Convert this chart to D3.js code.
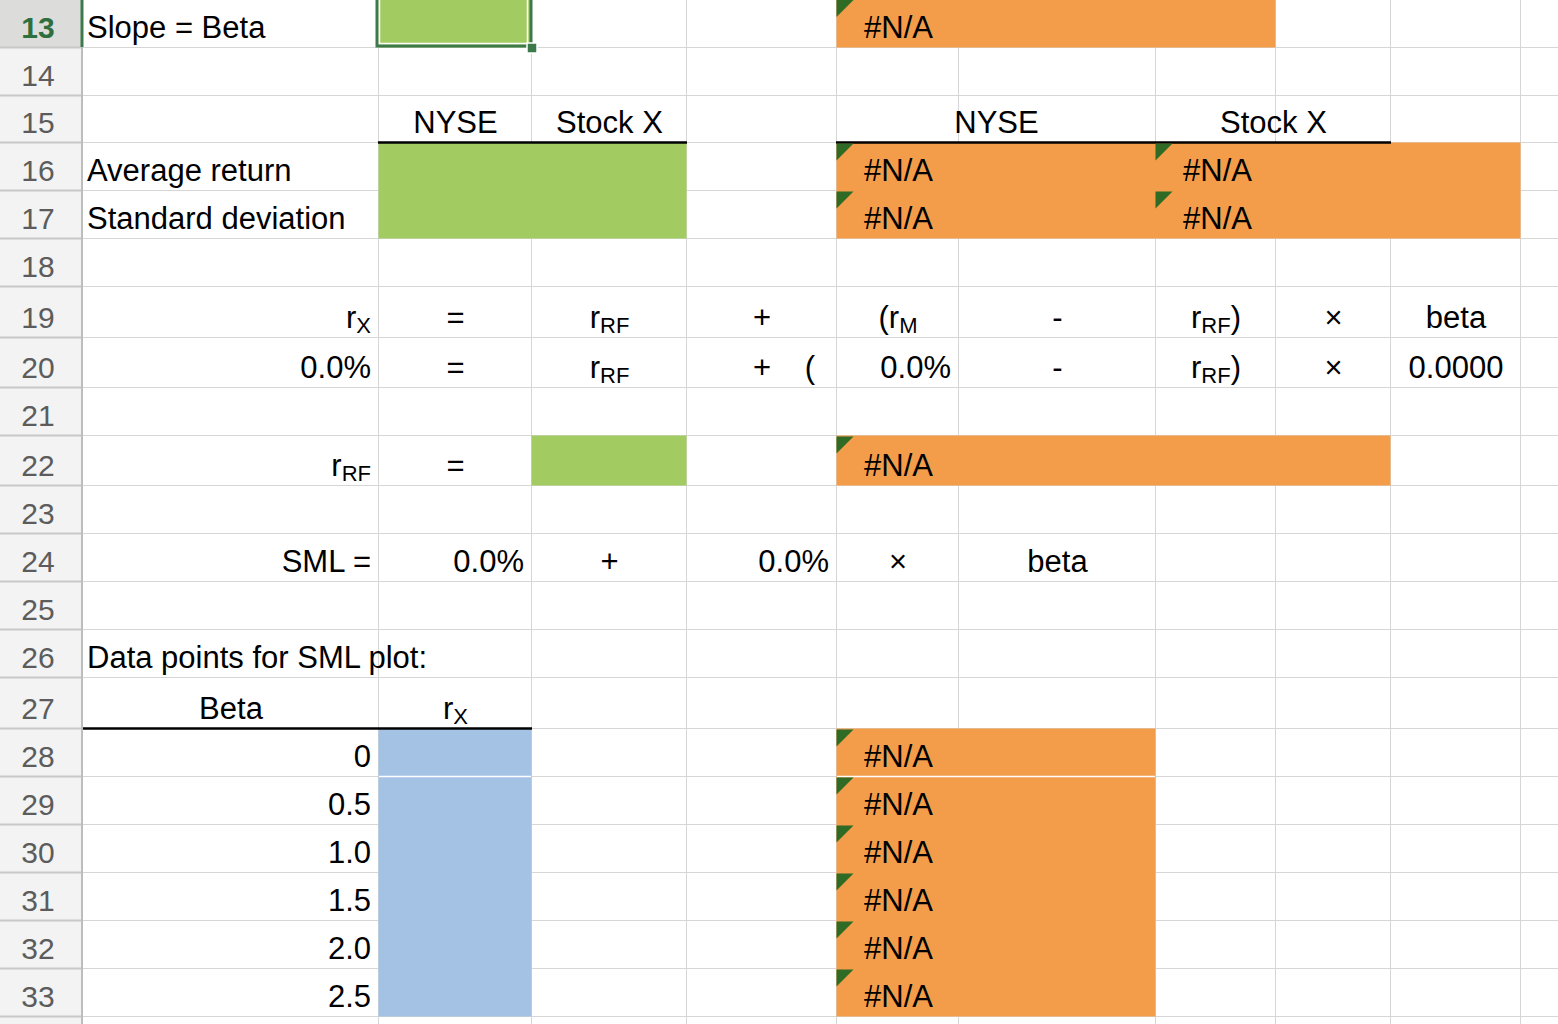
<!DOCTYPE html>
<html><head><meta charset="utf-8">
<script src="https://cdn.jsdelivr.net/npm/d3@7"></script>
<style>html,body{margin:0;padding:0;background:#fff;overflow:hidden}</style>
</head><body>
<script>
// ---------- data ----------
const columnNames = ["A","B","C","D","E","F","G","H","I","J"];
const rowNumbers = [13,14,15,16,17,18,19,20,21,22,23,24,25,26,27,28,29,30,31,32,33,34];
const selectedRow = 13;
const betaLabels = ["0","0.5","1.0","1.5","2.0","2.5"];
const betaRows = [28,29,30,31,32,33];
const naLabel = "#N/A";
const cellTexts = [
  ["A13","Slope = Beta"],["E13",naLabel],
  ["B15","NYSE"],["C15","Stock X"],["E15:F15","NYSE"],["G15:H15","Stock X"],
  ["A16","Average return"],["E16",naLabel],["G16",naLabel],
  ["A17","Standard deviation"],["E17",naLabel],["G17",naLabel],
  ["A19","r{X}"],["B19","="],["C19","r{RF}"],["D19","+"],["E19","(r{M}"],["F19","-"],["G19","r{RF})"],["H19","×"],["I19","beta"],
  ["A20","0.0%"],["B20","="],["C20","r{RF}"],["D20","+"],["D20(","("],["E20","0.0%"],["F20","-"],["G20","r{RF})"],["H20","×"],["I20","0.0000"],
  ["A22","r{RF}"],["B22","="],["E22",naLabel],
  ["A24","SML ="],["B24","0.0%"],["C24","+"],["D24","0.0%"],["E24","×"],["F24","beta"],
  ["A26","Data points for SML plot:"],
  ["A27","Beta"],["B27","r{X}"]
];
const fillRanges = [
  ["B13","green"],["E13:G13","orange"],
  ["B16:C17","green"],["E16:I17","orange"],
  ["C22","green"],["E22:H22","orange"],
  ["B28:B33","blue"],["E28:F33","orange"]
];
const errorCells = ["E13","E16","G16","E17","G17","E22","E28","E29","E30","E31","E32","E33"];
const bottomBorders = ["B15:C15","E15:H15","A27:B27"];
const whiteBottom = ["B28","E28:F28"];

// ---------- layout / style ----------
const W = 1558, H = 1024;
const colEdges = [83,379,532,687,837,959,1156,1276,1391,1521,1660];
const rowEdges = [0,48,96,143,191,239,287,338,388,436,486,534,582,630,678,729,777,825,873,921,969,1017,1065];
const fills = {green:"#a2cc62", orange:"#f39d4b", blue:"#a4c2e4"};
const FONT = "'Liberation Sans', Arial, Helvetica, sans-serif";
const FS = 31, SUBFS = 22;
const leftCells = ["A13","A16","A17","A26"];
const rightCells = ["A19","A20","A22","A24","B24","D24","E20"].concat(betaRows.map(r => "A" + r));
const alignOf = ref => {
  if (ref === "D20(") return {a:"middle", dx:48};
  if (leftCells.includes(ref)) return {a:"start"};
  if (errorCells.includes(ref)) return {a:"indent"};
  if (rightCells.includes(ref)) return {a:"end"};
  return {a:"middle"};
};

const xs = d3.scaleLinear().domain(d3.range(colEdges.length)).range(colEdges);
const ys = d3.scaleLinear().domain(d3.range(13, 13 + rowEdges.length)).range(rowEdges);
const ci = L => columnNames.indexOf(L);
function parseRange(r){
  const parts = r.replace("(","").split(":");
  const p = s => ({c: ci(s[0]), r: +s.slice(1)});
  const a = p(parts[0]), b = p(parts[1] || parts[0]);
  return {x0: xs(a.c), x1: xs(b.c + 1), y0: ys(a.r), y1: ys(b.r + 1)};
}

const svg = d3.select("body").append("svg").attr("width", W).attr("height", H)
  .style("display","block").attr("font-family", FONT);
svg.append("rect").attr("width", W).attr("height", H).attr("fill", "#fff");

// gridlines
const grid = svg.append("g").attr("stroke", "#d6d6d6").attr("stroke-width", 1);
grid.selectAll("line.v").data(colEdges.slice(1)).join("line")
  .attr("x1", d => d - 0.5).attr("x2", d => d - 0.5).attr("y1", 0).attr("y2", H);
grid.selectAll("line.h").data(rowNumbers.slice(1)).join("line")
  .attr("x1", colEdges[0]).attr("x2", W).attr("y1", d => ys(d) - 0.5).attr("y2", d => ys(d) - 0.5);

// fills
svg.append("g").selectAll("rect").data(fillRanges).join("rect")
  .each(function(d){ const r = parseRange(d[0]);
    d3.select(this).attr("x", r.x0 - 0.5).attr("y", r.y0 - 0.5).attr("width", r.x1 - r.x0).attr("height", r.y1 - r.y0)
      .attr("fill", fills[d[1]]); });

// white separators
svg.append("g").selectAll("line").data(whiteBottom).join("line")
  .each(function(d){ const r = parseRange(d);
    d3.select(this).attr("x1", r.x0).attr("x2", r.x1 - 1).attr("y1", r.y1 - 0.5).attr("y2", r.y1 - 0.5)
      .attr("stroke", "#fff").attr("stroke-width", 1.5); });

// black borders
svg.append("g").selectAll("line").data(bottomBorders).join("line")
  .each(function(d){ const r = parseRange(d);
    d3.select(this).attr("x1", r.x0 - 1).attr("x2", r.x1).attr("y1", r.y1 - 0.5).attr("y2", r.y1 - 0.5)
      .attr("stroke", "#000").attr("stroke-width", 2.5); });

// error triangles
svg.append("g").selectAll("path").data(errorCells).join("path")
  .attr("d", d => { const r = parseRange(d); const x = r.x0 - 0.5, y = r.y0 + (d === "E13" ? 0 : 0.5);
    return `M${x},${y}H${x + 17}L${x},${y + 17}Z`; })
  .attr("fill", "#2f6b24");

// texts
function drawText(ref, txt){
  const r = parseRange(ref), al = alignOf(ref);
  let x, anchor;
  if (al.a === "start"){ x = r.x0 + 4; anchor = "start"; }
  else if (al.a === "indent"){ x = r.x0 + 27; anchor = "start"; }
  else if (al.a === "end"){ x = r.x1 - 8; anchor = "end"; }
  else { x = (r.x0 + r.x1) / 2 + (al.dx || 0); anchor = "middle"; }
  const t = svg.append("text").attr("x", x).attr("y", r.y1 - 10).attr("text-anchor", anchor)
    .attr("font-size", FS).attr("fill", "#000");
  const segs = txt.split(/(\{[^}]*\})/).filter(s => s.length);
  let shifted = false;
  segs.forEach(s => {
    if (s[0] === "{"){ t.append("tspan").attr("font-size", SUBFS).attr("dy", 5).text(s.slice(1, -1)); shifted = true; }
    else { const sp = t.append("tspan").text(s); if (shifted){ sp.attr("dy", -5); shifted = false; } }
  });
}
cellTexts.forEach(d => drawText(d[0], d[1]));
betaRows.forEach((row, i) => drawText("A" + row, betaLabels[i]));
betaRows.forEach(row => drawText("E" + row, naLabel));

// row header
const hdr = svg.append("g");
hdr.append("rect").attr("x", 0).attr("y", 0).attr("width", colEdges[0] - 1).attr("height", H).attr("fill", "#f3f3f3");
hdr.append("rect").attr("x", 0).attr("y", ys(selectedRow)).attr("width", colEdges[0] - 1)
  .attr("height", ys(selectedRow + 1) - ys(selectedRow)).attr("fill", "#dcdcda");
hdr.selectAll("line").data(rowNumbers.slice(1)).join("line")
  .attr("x1", 0).attr("x2", colEdges[0]).attr("y1", d => ys(d) - 0.5).attr("y2", d => ys(d) - 0.5)
  .attr("stroke", "#c8c8c8").attr("stroke-width", 2);
hdr.append("line").attr("x1", colEdges[0] - 1).attr("x2", colEdges[0] - 1).attr("y1", 0).attr("y2", H)
  .attr("stroke", "#bdbdbd").attr("stroke-width", 2);
hdr.append("line").attr("x1", colEdges[0] - 1).attr("x2", colEdges[0] - 1)
  .attr("y1", ys(selectedRow)).attr("y2", ys(selectedRow + 1) - 1).attr("stroke", "#3d7a4b").attr("stroke-width", 3);
hdr.selectAll("text").data(rowNumbers.filter(d => ys(d + 1) <= H)).join("text")
  .attr("x", 38).attr("y", d => ys(d + 1) - 10).attr("text-anchor", "middle")
  .attr("font-size", 30)
  .attr("font-weight", d => d === selectedRow ? "bold" : "normal")
  .attr("fill", d => d === selectedRow ? "#2f6f3e" : "#5c5c5c")
  .text(d => d);

// selection on B13
const sel = parseRange("B13");
svg.append("rect").attr("x", sel.x0 - 2).attr("y", sel.y0 - 3).attr("width", sel.x1 - sel.x0 + 1)
  .attr("height", sel.y1 - sel.y0 + 1).attr("fill", "none").attr("stroke", "#3d7a4b").attr("stroke-width", 3);
svg.append("rect").attr("x", sel.x0 + 0.5).attr("y", sel.y0 - 1).attr("width", sel.x1 - sel.x0 - 5)
  .attr("height", sel.y1 - sel.y0 - 3.5).attr("fill", "none").attr("stroke", "#fff").attr("stroke-width", 1.5);
svg.append("rect").attr("x", sel.x1 - 5).attr("y", sel.y1 - 5).attr("width", 10).attr("height", 10)
  .attr("fill", "#3d7a4b").attr("stroke", "#fff").attr("stroke-width", 1.5);
</script>
</body></html>
